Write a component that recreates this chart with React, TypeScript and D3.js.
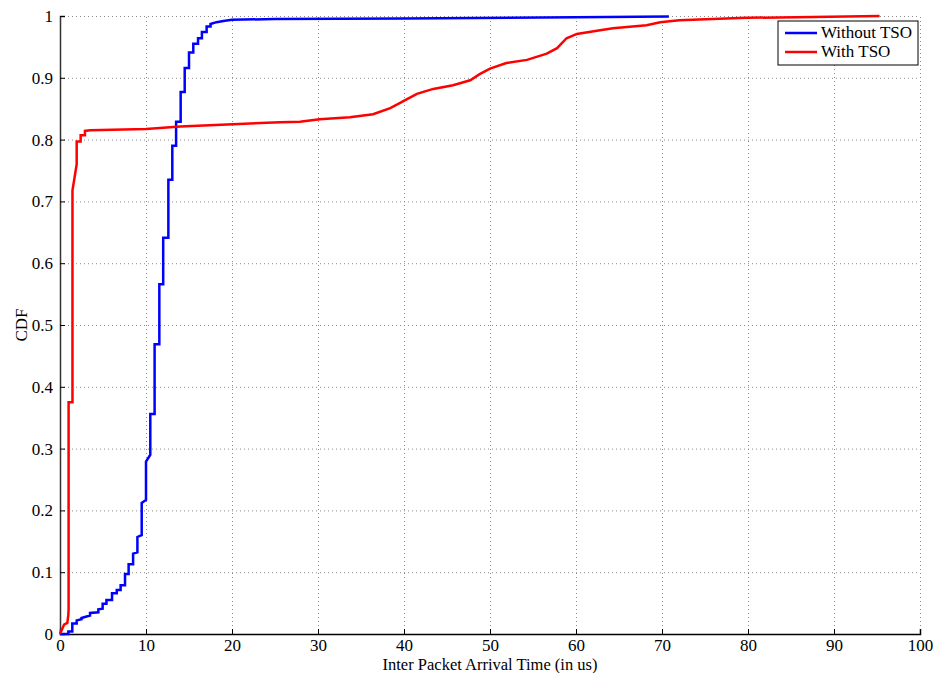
import React, { useEffect, useRef } from "react";
import * as d3 from "d3";

// Without TSO (blue) - step CDF
const withoutX = [0, 0.97, 0.97, 1.43, 1.43, 1.94, 1.94, 2.5, 2.5, 3.0, 3.49, 3.49, 4.46, 4.46, 4.96, 4.96, 5.4, 5.4, 6.05, 6.05, 6.6, 6.6, 7.05, 7.05, 7.56, 7.56, 7.98, 7.98, 8.5, 8.5, 9.0, 9.0, 9.5, 9.5, 10.0, 10.0, 10.5, 10.5, 11.0, 11.0, 11.55, 11.55, 12.0, 12.0, 12.6, 12.6, 13.06, 13.06, 13.5, 13.5, 14.03, 14.03, 14.5, 14.5, 15.0, 15.0, 15.5, 15.5, 16.05, 16.05, 16.5, 16.5, 17.05, 17.05, 17.5, 17.5, 18.2, 19, 20, 25, 40, 60, 70.8];
const withoutY = [0, 0, 0.004, 0.004, 0.017, 0.017, 0.022, 0.024, 0.026, 0.028, 0.03, 0.034, 0.035, 0.04, 0.041, 0.049, 0.049, 0.055, 0.055, 0.066, 0.066, 0.071, 0.071, 0.079, 0.079, 0.097, 0.097, 0.113, 0.113, 0.13, 0.132, 0.157, 0.16, 0.212, 0.217, 0.279, 0.29, 0.356, 0.356, 0.469, 0.469, 0.566, 0.566, 0.641, 0.641, 0.735, 0.735, 0.79, 0.79, 0.829, 0.829, 0.877, 0.877, 0.916, 0.916, 0.941, 0.941, 0.955, 0.955, 0.964, 0.964, 0.974, 0.974, 0.983, 0.983, 0.987, 0.99, 0.992, 0.994, 0.995, 0.996, 0.998, 0.999];

// With TSO (red)
const withX = [0, 0.47, 0.85, 0.97, 1.0, 1.0, 1.45, 1.45, 1.94, 1.94, 2.4, 2.4, 2.9, 2.9, 3.5, 10, 14, 20.1, 25.6, 27.9, 30.2, 33.7, 36.4, 38.4, 39.5, 40.3, 41.5, 43.4, 45.7, 47.7, 48.8, 50, 51.9, 54.3, 56.6, 57.8, 58.9, 60.1, 62.8, 64.3, 68.2, 69.8, 72, 79.8, 95.3];
const withY = [0, 0.015, 0.018, 0.031, 0.04, 0.375, 0.375, 0.718, 0.76, 0.797, 0.797, 0.807, 0.807, 0.814, 0.815, 0.817, 0.821, 0.825, 0.828, 0.829, 0.833, 0.836, 0.841, 0.851, 0.859, 0.865, 0.874, 0.882, 0.888, 0.896, 0.906, 0.915, 0.924, 0.929, 0.939, 0.948, 0.964, 0.971, 0.977, 0.98, 0.985, 0.99, 0.993, 0.997, 1.0];

const xTicks = [0, 10, 20, 30, 40, 50, 60, 70, 80, 90, 100];
const yTicks = [0, 0.1, 0.2, 0.3, 0.4, 0.5, 0.6, 0.7, 0.8, 0.9, 1];
const yTickLabels = ["0", "0.1", "0.2", "0.3", "0.4", "0.5", "0.6", "0.7", "0.8", "0.9", "1"];
const seriesNames = ["Without TSO", "With TSO"];
const seriesColors = ["#0000ff", "#ff0000"];

export default function App() {
  const ref = useRef<SVGSVGElement>(null);

  useEffect(() => {
    const W = 940, H = 673;
    const m = { left: 60, top: 16, right: 20, bottom: 39 };
    const svg = d3.select(ref.current);
    svg.selectAll("*").remove();
    const font = "Liberation Serif, Times New Roman, serif";

    const x = d3.scaleLinear().domain([0, 100]).range([m.left, W - m.right]);
    const y = d3.scaleLinear().domain([0, 1]).range([H - m.bottom, m.top]);

    svg.append("rect").attr("width", W).attr("height", H).attr("fill", "white");

    // grid
    const grid = svg.append("g").attr("stroke", "#8c8c8c").attr("stroke-width", 1).attr("stroke-dasharray", "1,3");
    xTicks.slice(1).forEach(t => {
      grid.append("line").attr("x1", x(t) + 0.5).attr("x2", x(t) + 0.5).attr("y1", y(0)).attr("y2", y(1));
    });
    yTicks.slice(1).forEach(t => {
      grid.append("line").attr("x1", x(0)).attr("x2", x(100)).attr("y1", y(t) + 0.5).attr("y2", y(t) + 0.5);
    });

    // axes
    const xAxis = d3.axisBottom(x).tickValues(xTicks).tickSize(-5).tickPadding(5).tickFormat(d3.format("d"));
    const gx = svg.append("g").attr("transform", `translate(0,${y(0)})`).call(xAxis);
    gx.attr("font-family", font);
    gx.select(".domain").attr("stroke", "black").attr("stroke-width", 1.5);
    gx.selectAll(".tick line").attr("stroke", "black");
    gx.selectAll("text").attr("font-family", font).attr("font-size", 17).attr("fill", "black");

    const yAxis = d3.axisLeft(y).tickValues(yTicks).tickSize(-5).tickPadding(7).tickFormat((d, i) => yTickLabels[i]);
    const gy = svg.append("g").attr("transform", `translate(${x(0)},0)`).call(yAxis);
    gy.attr("font-family", font);
    gy.select(".domain").attr("stroke", "#333").attr("stroke-width", 1.5);
    gy.selectAll(".tick line").attr("stroke", "black");
    gy.selectAll("text").attr("font-family", font).attr("font-size", 17).attr("fill", "black");

    // lines
    const line = d3.line<[number, number]>().x(d => x(d[0])).y(d => y(d[1]));
    const series = [d3.zip(withoutX, withoutY), d3.zip(withX, withY)] as [number, number][][];
    series.forEach((s, i) => {
      svg.append("path").datum(s).attr("d", line).attr("fill", "none")
        .attr("stroke", seriesColors[i]).attr("stroke-width", 2.5).attr("stroke-linejoin", "miter");
    });

    // labels
    svg.append("text").attr("x", (x(0) + x(100)) / 2).attr("y", 670).attr("text-anchor", "middle")
      .attr("font-family", font).attr("font-size", 16.5).text("Inter Packet Arrival Time (in us)");
    svg.append("text").attr("transform", `translate(27,${(y(0) + y(1)) / 2}) rotate(-90)`).attr("text-anchor", "middle")
      .attr("font-family", font).attr("font-size", 17).text("CDF");

    // legend
    const lg = svg.append("g").attr("transform", "translate(778,21)");
    lg.append("rect").attr("width", 140).attr("height", 44).attr("fill", "white").attr("stroke", "black").attr("stroke-width", 1);
    seriesNames.forEach((n, i) => {
      const yy = 12 + i * 19;
      lg.append("line").attr("x1", 7).attr("x2", 39).attr("y1", yy).attr("y2", yy)
        .attr("stroke", seriesColors[i]).attr("stroke-width", 2.5);
      lg.append("text").attr("x", 43).attr("y", yy + 5).attr("font-family", font).attr("font-size", 17).text(n);
    });
  }, []);

  return <svg ref={ref} width={940} height={673} style={{ position: "absolute", left: 0, top: 0 }} />;
}
